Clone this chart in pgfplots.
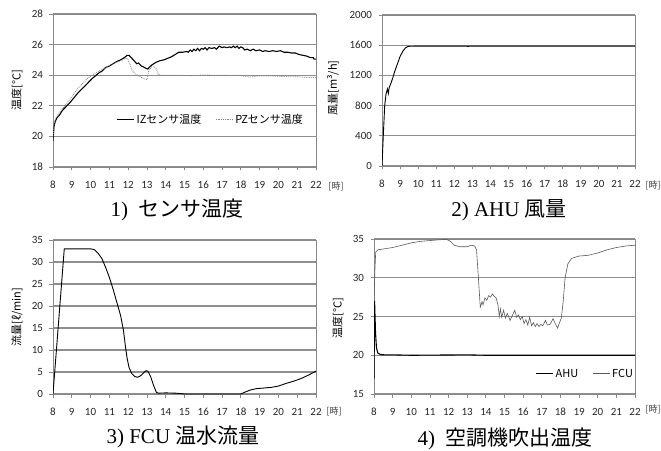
\documentclass[border=0pt]{standalone}
\usepackage{fontspec}
\setmainfont{Carlito}
\newfontfamily\jp{Noto Sans CJK JP}
\newfontfamily\ser{Liberation Serif}
\usepackage{pgfplots}
\pgfplotsset{compat=1.18}
\definecolor{gridc}{HTML}{8E8E8E}
\definecolor{framec}{HTML}{888888}
\definecolor{fcuc}{HTML}{5A5A5A}
\pgfplotsset{
  myax/.style={
    scale only axis, anchor=south west,
    xmin=8, xmax=22, xtick={8,9,...,22},
    axis line style={draw=framec, line width=0.9pt},
    ymajorgrids, grid style={draw=gridc, line width=1.2pt},
    tick align=outside, major tick length=3.5pt,
    tick style={draw=framec, line width=0.8pt},
    xtick pos=bottom, ytick pos=left,
    tick label style={font=\fontsize{11}{13}\selectfont, text=black!85},
    /pgf/number format/assume math mode=true,
    /pgf/number format/1000 sep={},
    xticklabel style={yshift=-7pt},
    yticklabel style={xshift=-3pt},
    legend cell align=left,
    legend image post style={line width=0.8pt},
    legend style={draw=none, fill=none, font=\jp\fontsize{11}{13}\selectfont, legend columns=2,
      /tikz/every even column/.append style={column sep=12pt}},
  }
}
\begin{document}
\begin{tikzpicture}
\path[use as bounding box] (0,0) rectangle (661pt,450pt);
% ---------- 1) sensor temperature
\begin{axis}[myax, at={(53pt,283pt)}, width=263pt, height=153pt,
  ymin=18, ymax=28, ytick={18,20,...,28},
  legend style={at={(0.6,0.31)}, anchor=center}]
\addplot[black, line width=1.1pt] coordinates {
(8,19.7)(8.05,20.6)(8.1,20.9)(8.2,21.2)(8.35,21.4)(8.5,21.7)(8.7,21.95)(8.9,22.2)
(9.1,22.5)(9.3,22.8)(9.5,23.05)(9.7,23.3)(9.9,23.55)(10.1,23.8)(10.3,24.0)(10.5,24.2)
(10.6,24.25)(10.8,24.5)(11.0,24.6)(11.2,24.75)(11.4,24.9)(11.6,25.0)(11.8,25.15)(11.95,25.3)
(12.05,25.3)(12.2,25.1)(12.35,24.9)(12.45,24.75)(12.55,24.8)(12.7,24.6)(12.8,24.55)(12.95,24.45)
(13.05,24.4)(13.15,24.55)(13.3,24.7)(13.5,24.85)(13.7,24.95)(13.9,25.0)(14.1,25.1)(14.3,25.2)
(14.5,25.35)(14.7,25.5)(14.9,25.5)(15.1,25.55)(15.2,25.5)(15.3,25.65)(15.4,25.55)(15.5,25.7)
(15.6,25.6)(15.7,25.75)(15.8,25.6)(15.9,25.75)(16.0,25.7)(16.1,25.8)(16.2,25.65)(16.3,25.8)
(16.45,25.75)(16.6,25.8)(16.7,25.7)(16.85,25.9)(17.0,25.8)(17.1,25.85)(17.25,25.8)(17.4,25.85)
(17.5,25.8)(17.6,25.9)(17.7,25.8)(17.8,25.9)(17.9,25.75)(18.0,25.85)(18.1,25.8)(18.2,25.65)
(18.35,25.7)(18.5,25.6)(18.65,25.7)(18.8,25.6)(19.0,25.65)(19.15,25.55)(19.3,25.6)(19.5,25.55)
(19.7,25.6)(19.9,25.55)(20.1,25.6)(20.3,25.5)(20.5,25.5)(20.7,25.45)(20.9,25.45)(21.1,25.35)
(21.3,25.3)(21.5,25.25)(21.7,25.15)(21.85,25.15)(21.9,25.05)(22,25.05)};
\addlegendentry{IZセンサ温度}
\addplot[gray, densely dotted, line width=0.8pt] coordinates {
(8,19.7)(8.05,20.8)(8.15,21.2)(8.3,21.5)(8.5,21.8)(8.7,22.1)(9.0,22.6)(9.3,23.1)(9.6,23.5)
(9.9,23.85)(10.2,24.1)(10.5,24.3)(10.8,24.5)(11.1,24.7)(11.4,24.85)(11.7,25.0)(11.9,25.15)
(12.0,25.0)(12.1,24.7)(12.2,24.35)(12.35,24.1)(12.5,24.0)(12.7,23.85)(12.9,23.75)(13.0,23.7)
(13.1,24.3)(13.25,24.55)(13.4,24.55)(13.5,24.4)(13.6,24.05)(13.8,24.0)(14.5,24.0)(15,23.98)
(15.5,23.97)(16,24.02)(16.5,24.0)(17,24.0)(17.5,23.98)(18,24.0)(18.2,23.92)(18.5,23.88)
(18.8,23.93)(19,23.95)(19.5,23.95)(20,23.93)(20.5,23.9)(21,23.9)(21.5,23.85)(22,23.85)};
\addlegendentry{PZセンサ温度}
\end{axis}
% ---------- 2) AHU flow
\begin{axis}[myax, at={(382pt,284pt)}, width=253pt, height=151pt,
  ymin=0, ymax=2000, ytick={0,400,...,2000}]
\addplot[black, line width=0.9pt] coordinates {
(8,0)(8.08,450)(8.15,800)(8.22,950)(8.3,1020)(8.35,960)(8.4,1040)(8.5,1100)(8.6,1170)
(8.7,1250)(8.85,1350)(9.0,1450)(9.15,1520)(9.3,1565)(9.45,1585)(10,1588)(12.7,1588)(12.75,1580)(12.8,1588)(22,1588)};
\end{axis}
% ---------- 3) FCU hot water flow
\begin{axis}[myax, at={(53pt,56pt)}, width=263pt, height=154pt,
  ymin=0, ymax=35, ytick={0,5,...,35}]
\addplot[black, line width=0.9pt] coordinates {
(8,0)(8.6,33)(10,33)(10.2,32.8)(10.4,32)(10.6,30.8)(10.8,28.8)(11.0,26.5)(11.2,23.8)
(11.4,20.8)(11.6,17.8)(11.75,14.5)(11.85,11)(11.95,8)(12.05,6)(12.2,4.6)(12.35,4)(12.5,3.8)
(12.65,4.1)(12.8,4.7)(12.95,5.3)(13.05,5.2)(13.2,3.9)(13.35,2)(13.5,0.4)(13.6,0.2)(14,0.25)
(14.5,0.2)(14.8,0.1)(15,0)(18,0)(18.2,0.4)(18.5,0.9)(18.8,1.2)(19.2,1.35)(19.6,1.5)(20,1.8)
(20.4,2.4)(20.8,2.9)(21.2,3.5)(21.6,4.3)(22,5.2)};
\end{axis}
% ---------- 4) supply air temperature
\begin{axis}[myax, at={(374pt,56pt)}, width=261pt, height=155pt,
  ymin=15, ymax=35, ytick={15,20,...,35},
  legend style={at={(0.81,0.13)}, anchor=center}]
\addplot[black, line width=1.1pt] coordinates {
(8,17)(8.03,27)(8.08,23)(8.13,21)(8.2,20.3)(8.35,20.08)(8.6,20.05)(9,20.05)(10,20.0)(13,20.05)(14,20.0)(22,20.0)};
\addlegendentry{AHU}
\addplot[fcuc, line width=0.6pt] coordinates {
(8,27)(8.05,31)(8.09,33.3)(8.2,33.6)(8.6,33.75)(9,33.9)(9.5,34.2)(10,34.5)(10.5,34.7)(11,34.8)(11.5,34.9)
(11.9,34.95)(12.1,34.7)(12.3,34.2)(12.6,34.0)(13,34.0)(13.2,34.2)(13.4,34.1)(13.5,33.6)(13.6,30)
(13.7,26.2)(13.8,26.9)(13.85,26.5)(13.95,27.4)(14.05,27.1)(14.15,27.7)(14.25,27.5)(14.35,27.9)
(14.45,27.6)(14.55,27.4)(14.65,26.5)(14.72,25.0)(14.78,26.0)(14.85,24.9)(14.95,25.8)(15.05,24.8)
(15.15,25.4)(15.3,24.5)(15.45,25.3)(15.55,25.8)(15.65,24.9)(15.75,25.2)(15.85,24.6)(15.95,25.0)
(16.05,24.1)(16.15,24.6)(16.25,23.9)(16.35,24.9)(16.45,23.8)(16.55,24.2)(16.65,23.7)(16.75,24.1)
(16.85,23.7)(16.95,24.0)(17.05,23.8)(17.2,24.5)(17.3,23.9)(17.45,24.0)(17.6,24.7)(17.7,24.2)
(17.85,23.5)(17.95,24.2)(18.05,24.8)(18.15,27)(18.25,30)(18.4,31.8)(18.6,32.5)(19,32.8)(19.5,32.9)
(20,33.2)(20.5,33.6)(21,33.9)(21.5,34.1)(22,34.2)};
\addlegendentry{FCU}
\end{axis}
% ---------- labels
\node[rotate=90, font=\jp\fontsize{11}{13}\selectfont] at (17pt,360pt) {温度[°C]};
\node[rotate=90, font=\jp\fontsize{11}{13}\selectfont] at (333pt,362pt) {風量[m³/h]};
\node[rotate=90, font=\jp\fontsize{11}{13}\selectfont] at (17pt,133pt) {流量[ℓ/min]};
\node[rotate=90, font=\jp\fontsize{11}{13}\selectfont] at (338pt,132pt) {温度[°C]};
\node[font=\jp\fontsize{9}{11}\selectfont, text=black!75] at (336pt,264pt) {[時]};
\node[font=\jp\fontsize{9}{11}\selectfont, text=black!75] at (653pt,265pt) {[時]};
\node[font=\jp\fontsize{9}{11}\selectfont, text=black!75] at (334pt,39pt) {[時]};
\node[font=\jp\fontsize{9}{11}\selectfont, text=black!75] at (653pt,41pt) {[時]};
\node[font=\fontsize{21}{24}\selectfont] at (177pt,240pt) {\ser 1)\ \ \jp センサ温度};
\node[font=\fontsize{21}{24}\selectfont] at (509pt,240pt) {\ser 2) AHU \jp 風量};
\node[font=\fontsize{21}{24}\selectfont] at (183pt,13pt) {\ser 3) FCU \jp 温水流量};
\node[font=\fontsize{21}{24}\selectfont] at (505pt,11pt) {\ser 4)\ \ \jp 空調機吹出温度};
\end{tikzpicture}
\end{document}
